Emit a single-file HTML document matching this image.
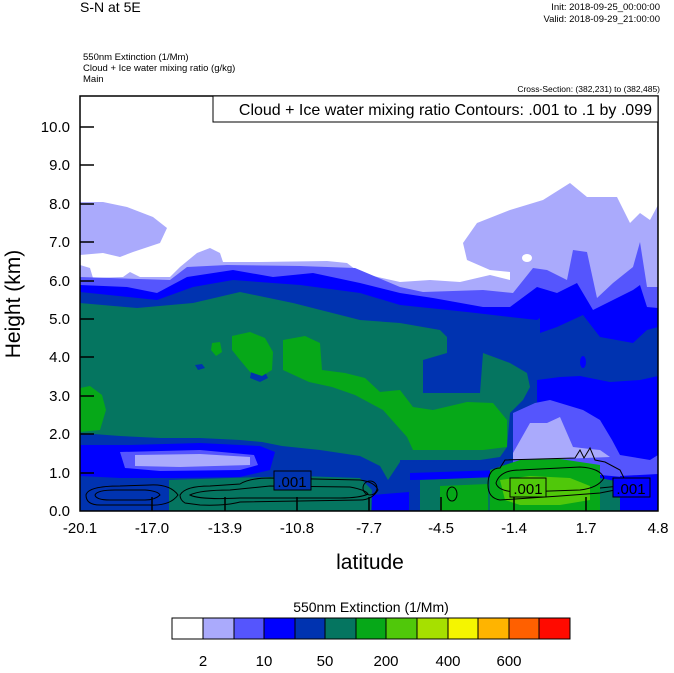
<!DOCTYPE html>
<html><head><meta charset="utf-8"><style>
html,body{margin:0;padding:0;background:#fff;}
body{width:674px;height:668px;overflow:hidden;font-family:"Liberation Sans",Arial,sans-serif;}
</style></head><body>
<svg width="674" height="668" viewBox="0 0 674 668" xmlns="http://www.w3.org/2000/svg" font-family="Liberation Sans, Arial, sans-serif">
<rect width="674" height="668" fill="#fff"/>
<text x="80" y="12" font-size="14">S-N at 5E</text>
<text x="660" y="10" font-size="9.5" text-anchor="end">Init: 2018-09-25_00:00:00</text>
<text x="660" y="22" font-size="9.5" text-anchor="end">Valid: 2018-09-29_21:00:00</text>
<text x="83" y="60" font-size="9.5">550nm Extinction   (1/Mm)</text>
<text x="83" y="71" font-size="9.5">Cloud + Ice water mixing ratio   (g/kg)</text>
<text x="83" y="82" font-size="9.5">Main</text>
<text x="660" y="92" font-size="8.5" text-anchor="end">Cross-Section: (382,231) to (382,485)</text>
<clipPath id="c"><rect x="80" y="96" width="578" height="415"/></clipPath>
<g clip-path="url(#c)">
<rect x="80" y="96" width="578" height="415" fill="#fff"/>
<polygon fill="#aaaafc" points="80,202 103,202 127,207 153,217 167,228 160,243 133,252 120,257 103,253 80,255"/>
<polygon fill="#aaaafc" points="80,265 90,268 93,278 123,277 130,272 140,277 170,277 180,267 197,253 210,248 220,253 223,262 260,262 327,261 347,263 360,273 400,282 430,280 460,282 490,275 510,280 510,272 490,270 467,260 463,243 477,223 510,210 543,200 570,183 587,197 617,197 630,223 640,213 650,220 658,205 658,511 80,511"/>
<ellipse cx="527" cy="258" rx="5" ry="4" fill="#fff"/>
<polygon fill="#5555fd" points="80,277 170,280 187,267 227,265 300,266 355,268 400,287 423,292 483,290 513,293 533,268 547,270 567,280 573,250 587,252 597,298 613,283 633,267 640,242 647,287 658,287 658,511 80,511"/>
<polygon fill="#0000ff" points="80,285 127,287 157,293 187,277 233,270 273,277 313,273 360,283 400,293 433,298 483,307 510,307 537,287 557,293 577,283 593,310 613,300 633,290 640,285 647,307 658,308 658,511 80,511"/>
<polygon fill="#0033b0" points="80,292 157,300 193,287 233,280 300,285 360,293 400,305 467,312 510,317 537,320 540,318 540,333 557,327 583,315 600,337 633,343 647,330 658,327 658,511 80,511"/>
<ellipse cx="583" cy="362" rx="3" ry="6" fill="#0000ff"/>
<polygon fill="#057560" points="80,303 137,308 193,303 240,292 293,303 360,320 400,323 440,330 447,337 447,353 423,360 423,393 480,393 483,353 510,363 527,373 530,387 523,400 510,413 507,447 500,457 480,460 420,460 400,460 400,511 80,511"/>
<polygon fill="#0033b0" points="195,365 202,364 205,368 198,370"/>
<polygon fill="#0033b0" points="252,368 262,366 268,378 260,382 250,378"/>
<polygon fill="#0000ff" points="537,380 560,377 580,376 610,382 640,380 658,376 658,511 537,511"/>
<polygon fill="#5555fd" points="513,413 535,403 550,400 583,410 600,420 612,440 620,455 650,460 658,455 658,480 600,475 513,472"/>
<polygon fill="#aaaafc" points="513,453 530,423 547,423 560,417 573,447 590,449 600,450 610,457 560,459 513,459"/>
<polygon fill="#06a818" points="80,388 90,386 102,395 106,410 100,430 80,432"/>
<polygon fill="#06a818" points="212,343 220,342 222,352 216,356 211,350"/>
<polygon fill="#06a818" points="232,336 250,332 265,338 273,352 272,370 262,376 250,372 240,360 232,350"/>
<polygon fill="#06a818" points="283,340 305,336 320,343 322,370 345,373 365,378 380,392 400,390 413,407 433,410 467,402 493,403 507,420 507,447 483,450 413,450 407,437 383,410 355,395 332,387 309,382 283,370"/>
<polygon fill="#0033b0" points="80,433 120,436 160,438 200,438 240,440 262,442 282,446 320,450 360,456 380,466 388,480 400,462 440,461 480,461 500,458 513,462 513,511 80,511"/>
<polygon fill="#0000ff" points="80,445 130,445 200,443 260,446 275,452 270,470 240,477 180,478 120,478 80,476"/>
<polygon fill="#5555fd" points="120,452 200,450 254,455 258,465 240,470 160,471 125,468"/>
<polygon fill="#aaaafc" points="135,455 200,454 250,457 250,465 180,467 135,466"/>
<polygon fill="#0000ff" points="410,473 500,470 510,478 410,480"/>
<polygon fill="#057560" points="169,480 230,478 300,476 360,478 372,490 371,511 169,511"/>
<polygon fill="#057560" points="420,480 520,476 600,478 620,482 620,511 420,511"/>
<polygon fill="#06a818" points="440,486 488,484 488,511 440,511"/>
<polygon fill="#06a818" points="490,470 520,460 560,459 600,465 600,511 490,511"/>
<polygon fill="#50c80a" points="500,480 530,476 570,478 590,486 590,500 560,505 520,505 505,500"/>
<polygon fill="#0000ff" points="620,476 658,474 658,511 620,511"/>
<polygon fill="#0000ff" points="372,495 409,492 409,511 372,511"/>
<g fill="none" stroke="#000" stroke-width="1">
<path d="M86,495 Q88,486 120,486 L150,485 Q170,484 178,495 Q170,506 150,505 L100,505 Q86,505 86,495Z"/>
<path d="M95,495 Q97,490 115,490 L145,490 Q158,491 160,495 Q155,500 145,500 L110,500 Q96,500 95,495Z"/>
<path d="M180,495 Q185,486 210,486 L240,484 Q250,478 270,478 L360,480 Q375,482 378,490 Q372,500 360,500 L240,502 Q225,506 200,505 L185,503 Q180,500 180,495Z"/>
<path d="M190,495 Q200,490 230,490 L270,486 L350,487 Q366,490 368,494 Q360,498 340,498 L240,498 Q200,500 190,495Z"/>
<circle cx="370" cy="488" r="7"/>
<ellipse cx="452" cy="494" rx="5" ry="7"/>
<path d="M488,485 Q488,468 500,468 L505,460 L575,458 L580,450 L584,458 L590,448 L595,460 L605,462 L620,470 L626,482 L615,490 L600,493 L560,496 L530,498 L500,500 Q488,498 488,485Z"/>
<path d="M496,483 Q500,470 520,470 L580,467 Q600,468 604,478 Q598,488 580,490 L520,492 Q498,492 496,483Z"/>
<path d="M600,488 L620,486 L640,490"/>
</g>
<g stroke="#000" stroke-width="1.5">
<line x1="152" y1="511" x2="152" y2="497"/><line x1="225" y1="511" x2="225" y2="497"/>
<line x1="297" y1="511" x2="297" y2="497"/><line x1="369" y1="511" x2="369" y2="497"/>
<line x1="441" y1="511" x2="441" y2="497"/><line x1="514" y1="511" x2="514" y2="497"/>
<line x1="586" y1="511" x2="586" y2="497"/>
</g>
<g font-size="15">
<rect x="274" y="471" width="37" height="19" fill="#0033b0" stroke="#000"/>
<text x="292" y="487" text-anchor="middle">.001</text>
<rect x="510" y="478" width="36" height="19" fill="#50c80a" stroke="#000"/>
<text x="528" y="494" text-anchor="middle">.001</text>
<rect x="613" y="478" width="37" height="19" fill="#0000ff" stroke="#000"/>
<text x="631" y="494" text-anchor="middle">.001</text>
</g>
</g>
<rect x="80" y="96" width="578" height="415" fill="none" stroke="#000" stroke-width="1.5"/>
<rect x="213" y="96" width="445" height="26" fill="#fff" stroke="#000" stroke-width="1"/>
<text x="652" y="115" font-size="16" text-anchor="end">Cloud + Ice water mixing ratio Contours: .001 to .1 by .099</text>
<g stroke="#000" stroke-width="1.5">
<line x1="80" y1="127" x2="94" y2="127"/><line x1="80" y1="165" x2="94" y2="165"/><line x1="80" y1="204" x2="94" y2="204"/>
<line x1="80" y1="242" x2="94" y2="242"/><line x1="80" y1="281" x2="94" y2="281"/><line x1="80" y1="319" x2="94" y2="319"/>
<line x1="80" y1="357" x2="94" y2="357"/><line x1="80" y1="396" x2="94" y2="396"/><line x1="80" y1="434" x2="94" y2="434"/>
<line x1="80" y1="473" x2="94" y2="473"/>
</g>
<g font-size="15" text-anchor="end">
<text x="70" y="132">10.0</text><text x="70" y="170">9.0</text><text x="70" y="209">8.0</text><text x="70" y="247">7.0</text>
<text x="70" y="286">6.0</text><text x="70" y="324">5.0</text><text x="70" y="362">4.0</text><text x="70" y="401">3.0</text>
<text x="70" y="439">2.0</text><text x="70" y="478">1.0</text><text x="70" y="516">0.0</text>
</g>
<g font-size="15" text-anchor="middle">
<text x="80" y="533">-20.1</text><text x="152" y="533">-17.0</text><text x="225" y="533">-13.9</text><text x="297" y="533">-10.8</text>
<text x="369" y="533">-7.7</text><text x="441" y="533">-4.5</text><text x="514" y="533">-1.4</text><text x="586" y="533">1.7</text><text x="658" y="533">4.8</text>
</g>
<text x="370" y="569" font-size="21" text-anchor="middle">latitude</text>
<text transform="translate(20,304) rotate(-90)" font-size="21" text-anchor="middle">Height (km)</text>
<text x="371" y="612" font-size="14" text-anchor="middle">550nm Extinction  (1/Mm)</text>
<g stroke="#000" stroke-width="1">
<rect x="172" y="618" width="31" height="21" fill="#fff"/>
<rect x="203" y="618" width="31" height="21" fill="#aaaafc"/>
<rect x="234" y="618" width="30" height="21" fill="#5555fd"/>
<rect x="264" y="618" width="31" height="21" fill="#0000ff"/>
<rect x="295" y="618" width="30" height="21" fill="#0033b0"/>
<rect x="325" y="618" width="31" height="21" fill="#057560"/>
<rect x="356" y="618" width="30" height="21" fill="#06a818"/>
<rect x="386" y="618" width="31" height="21" fill="#50c80a"/>
<rect x="417" y="618" width="31" height="21" fill="#a6e000"/>
<rect x="448" y="618" width="30" height="21" fill="#f5f500"/>
<rect x="478" y="618" width="31" height="21" fill="#ffb400"/>
<rect x="509" y="618" width="30" height="21" fill="#ff6000"/>
<rect x="539" y="618" width="31" height="21" fill="#ff0a00"/>
</g>
<g font-size="15" text-anchor="middle">
<text x="203" y="666">2</text><text x="264" y="666">10</text><text x="325" y="666">50</text>
<text x="386" y="666">200</text><text x="448" y="666">400</text><text x="509" y="666">600</text>
</g>
</svg>
</body></html>
